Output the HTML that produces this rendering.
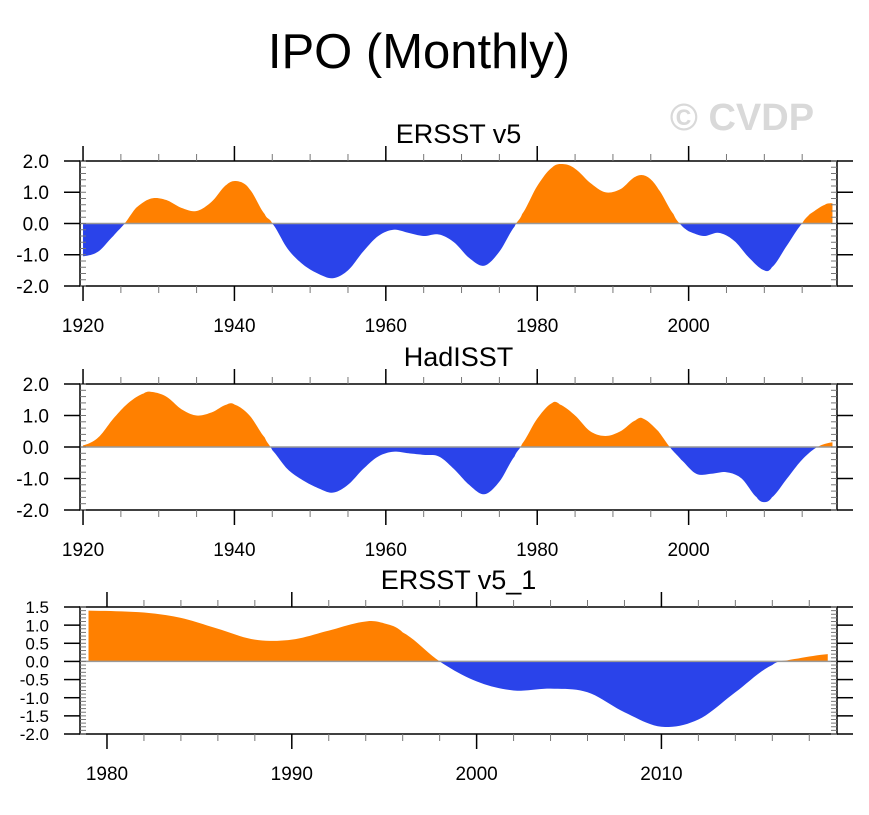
<!DOCTYPE html>
<html><head><meta charset="utf-8"><style>
body{margin:0;background:#fff;}
svg text{font-family:"Liberation Sans",Helvetica,sans-serif;fill:#000;}
</style></head><body>
<svg id="c" width="869" height="810" xmlns="http://www.w3.org/2000/svg">
<text x="419" y="68" font-size="49" text-anchor="middle">IPO (Monthly)</text>
<text x="742" y="130" font-size="38" font-weight="bold" text-anchor="middle" style="fill:#d9d9d9">© CVDP</text>
</svg>
<script>
const years1 = [1920,1922,1924,1925.5,1927,1929,1931,1933,1935,1937,1939,1940.5,1942,1944,1945,1947,1949,1951,1953,1955,1957,1959,1961,1963,1965,1967,1969,1971,1973,1975,1977,1978,1980,1982,1983.5,1985,1987,1989,1991,1993,1994.5,1996,1998,1999,2000,2002,2004,2006,2008,2010,2011,2013,2015,2016,2018,2019];
const ersst = [-1.05,-0.9,-0.4,0,0.5,0.8,0.75,0.5,0.4,0.7,1.25,1.35,1.1,0.3,0,-0.8,-1.3,-1.6,-1.75,-1.5,-0.9,-0.4,-0.2,-0.3,-0.4,-0.35,-0.6,-1.1,-1.35,-0.9,-0.1,0.3,1.2,1.8,1.9,1.75,1.3,1.0,1.1,1.5,1.5,1.1,0.3,-0.05,-0.25,-0.4,-0.3,-0.55,-1.1,-1.5,-1.4,-0.7,0,0.3,0.6,0.65];
const years2 = [1920,1922,1924,1926,1928,1929,1931,1933,1935,1937,1939,1940,1942,1944,1945,1947,1949,1951,1953,1955,1957,1959,1961,1963,1965,1967,1969,1971,1973,1975,1977,1978,1980,1982,1983,1985,1987,1989,1991,1993,1994,1996,1997.5,1999,2001,2003,2005,2007,2009,2010,2011,2013,2015,2017,2019];
const hadisst = [0.05,0.3,0.9,1.4,1.7,1.75,1.6,1.2,1.0,1.1,1.35,1.35,1.0,0.3,-0.1,-0.7,-1.05,-1.3,-1.45,-1.2,-0.7,-0.3,-0.15,-0.2,-0.25,-0.3,-0.7,-1.2,-1.5,-1.1,-0.3,0.1,0.9,1.4,1.35,1.0,0.5,0.35,0.5,0.85,0.9,0.5,0,-0.4,-0.85,-0.85,-0.8,-1.0,-1.6,-1.75,-1.6,-1.0,-0.4,0,0.15];
const years3 = [1979,1982,1984,1986,1988,1990,1992,1994,1995,1996,1998,2000,2002,2004,2006,2008,2010,2012,2014,2016,2017,2019];
const ersst1 = [1.4,1.35,1.2,0.9,0.6,0.6,0.85,1.1,1.05,0.8,0,-0.55,-0.8,-0.75,-0.85,-1.4,-1.8,-1.6,-0.85,-0.1,0.05,0.2];
const ticks12 = ["1920","1940","1960","1980","2000"];
const ticks3 = ["1980","1990","2000","2010"];
const ylab12 = ["2.0","1.0","0.0","-1.0","-2.0"];
const ylab3 = ["1.5","1.0","0.5","0.0","-0.5","-1.0","-1.5","-2.0"];

const svg=document.getElementById('c');
const NS='http://www.w3.org/2000/svg';
function mk(tag,attrs,parent){const e=document.createElementNS(NS,tag);for(const k in attrs)e.setAttribute(k,attrs[k]);(parent||svg).appendChild(e);return e;}
function smooth(xs,vs){
  const out=[];
  for(let i=0;i<xs.length-1;i++){
    const p0=vs[Math.max(0,i-1)],p1=vs[i],p2=vs[i+1],p3=vs[Math.min(vs.length-1,i+2)];
    const n=10;
    for(let k=0;k<n;k++){
      const t=k/n;
      const v=0.5*((2*p1)+(-p0+p2)*t+(2*p0-5*p1+4*p2-p3)*t*t+(-p0+3*p1-3*p2+p3)*t*t*t);
      out.push([xs[i]+(xs[i+1]-xs[i])*t,v]);
    }
  }
  out.push([xs[xs.length-1],vs[vs.length-1]]);
  return out;
}
let clipId=0;
function panel(o){
  const g=mk('g',{});
  
  
  const L=80,R=837,T=o.top,B=o.bot;
  const sx=v=>L+(v-o.x0)/(o.x1-o.x0)*(R-L);
  const sy=v=>T+(o.y1-v)/(o.y1-o.y0)*(B-T);
  const t=mk('text',{x:(L+R)/2,y:T-18,'font-size':27,'text-anchor':'middle'},g);
  t.textContent=o.title;
  
  
  const y0=sy(0);
  const pts=smooth(o.xs,o.vals);
  let d='M'+sx(o.xs[0])+','+y0;
  pts.forEach(p=>{d+=' L'+sx(p[0]).toFixed(2)+','+sy(p[1]).toFixed(2);});
  d+=' L'+sx(o.xs[o.xs.length-1])+','+y0+' Z';
  const id1='cp'+(clipId++),id2='cp'+(clipId++);
  const c1=mk('clipPath',{id:id1},g);mk('rect',{x:L,y:T,width:R-L,height:y0-T},c1);
  const c2=mk('clipPath',{id:id2},g);mk('rect',{x:L,y:y0,width:R-L,height:B-y0},c2);
  const a1=mk('path',{d:d,fill:'#ff8000','clip-path':'url(#'+id1+')'},g);
  
  
  const a2=mk('path',{d:d,fill:'#2a43ea','clip-path':'url(#'+id2+')'},g);
  
  
  mk('line',{x1:L,x2:R,y1:y0,y2:y0,stroke:'#999','stroke-width':1.5},g);
  mk('rect',{x:L,y:T,width:R-L,height:B-T,fill:'none',stroke:'#000','stroke-width':1.5},g);
  for(let v=o.y0;v<=o.y1+1e-9;v+=o.ymin){
    const y=sy(v);
    mk('line',{x1:L,x2:L+6,y1:y,y2:y,stroke:'#777','stroke-width':1},g);
    mk('line',{x1:R,x2:R-6,y1:y,y2:y,stroke:'#777','stroke-width':1},g);
  }
  o.ylab.forEach(s=>{
    const y=sy(parseFloat(s));
    mk('line',{x1:L-16,x2:L,y1:y,y2:y,stroke:'#000','stroke-width':1.5},g);
    mk('line',{x1:R,x2:R+16,y1:y,y2:y,stroke:'#000','stroke-width':1.5},g);
    const fs=o.small?17:19;
    const tx=mk('text',{x:49,y:y+fs*0.36,'font-size':fs,'text-anchor':'end'},g);
    tx.textContent=s;
    
    
  });
  for(let v=Math.ceil(o.x0/o.xmin)*o.xmin;v<=o.x1;v+=o.xmin){
    const x=sx(v);
    mk('line',{x1:x,x2:x,y1:T,y2:T-7,stroke:'#777','stroke-width':1},g);
    mk('line',{x1:x,x2:x,y1:B,y2:B+7,stroke:'#777','stroke-width':1},g);
  }
  o.xt.forEach(s=>{
    const x=sx(parseFloat(s));
    mk('line',{x1:x,x2:x,y1:T,y2:T-15,stroke:'#000','stroke-width':1.5},g);
    mk('line',{x1:x,x2:x,y1:B,y2:B+15,stroke:'#000','stroke-width':1.5},g);
    const tx=mk('text',{x:x,y:B+46,'font-size':19,'text-anchor':'middle'},g);
    tx.textContent=s;
    
    
  });
}
panel({name:'ersst-v5-panel',title:'ERSST v5',top:161,bot:286,x0:1919.6,x1:2019.6,y0:-2,y1:2,ymin:0.2,xmin:5,xs:years1,vals:ersst,xt:ticks12,ylab:ylab12});
panel({name:'hadisst-panel',title:'HadISST',top:384,bot:510,x0:1919.6,x1:2019.6,y0:-2,y1:2,ymin:0.2,xmin:5,xs:years2,vals:hadisst,xt:ticks12,ylab:ylab12});
panel({name:'ersst-v5-1-panel',title:'ERSST v5_1',top:607,bot:734,x0:1978.54,x1:2019.5,y0:-2,y1:1.5,ymin:0.1,xmin:2,xs:years3,vals:ersst1,xt:ticks3,ylab:ylab3,small:true});
</script>
</body></html>
